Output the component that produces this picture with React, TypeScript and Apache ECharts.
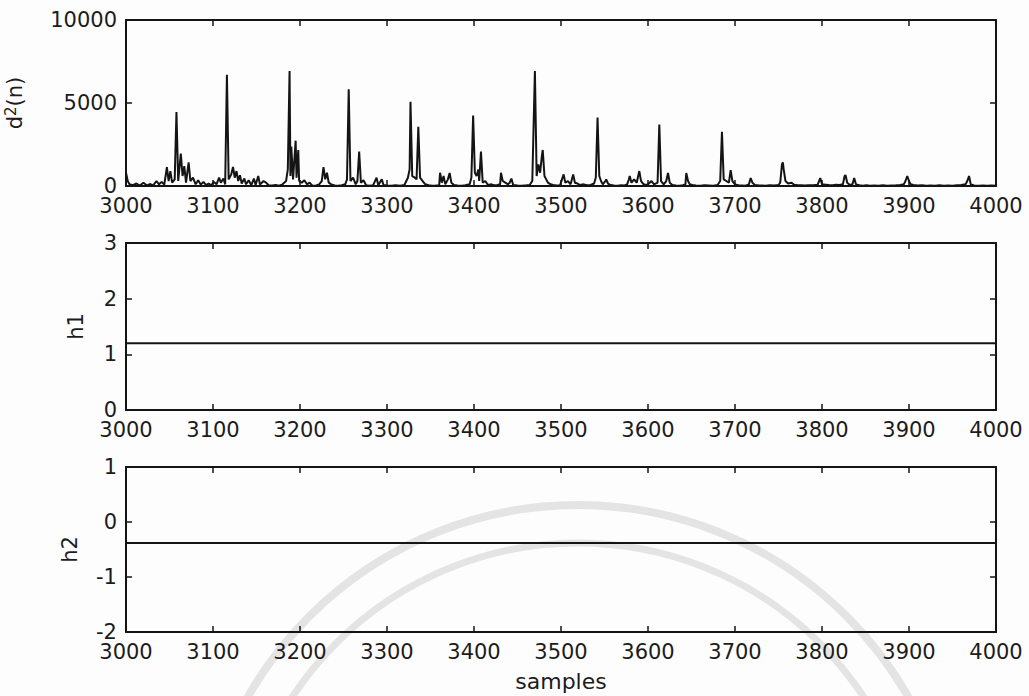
import React, { useEffect, useRef } from "react";
import * as echarts from "echarts";

// ---- data ----
const d2Samples = [
  3000, 3002, 3004, 3008, 3012, 3016, 3020, 3024, 3028, 3031, 3035, 3038, 3041, 3044, 3047, 3049, 3051, 3053, 3056, 3058,
  3060, 3063, 3065, 3067, 3069, 3072, 3074, 3077, 3080, 3083, 3086, 3089, 3092, 3095, 3098, 3101, 3104, 3107, 3109, 3112,
  3114, 3116, 3118, 3121, 3123, 3125, 3127, 3129, 3131, 3133, 3136, 3138, 3141, 3144, 3147, 3149, 3152, 3154, 3158, 3161,
  3164, 3168, 3172, 3176, 3180, 3184, 3186, 3188, 3189, 3190, 3192, 3195, 3196, 3198, 3199, 3202, 3205, 3208, 3211, 3214,
  3218, 3222, 3225, 3227, 3229, 3231, 3233, 3236, 3240, 3244, 3248, 3252, 3254, 3256, 3258, 3261, 3264, 3266, 3268, 3270,
  3273, 3276, 3280, 3284, 3288, 3290, 3294, 3296, 3300, 3305, 3310, 3315, 3320, 3324, 3326, 3327, 3329, 3332, 3334, 3336,
  3338, 3341, 3344, 3348, 3352, 3356, 3360, 3361, 3363, 3365, 3367, 3370, 3372, 3374, 3377, 3381, 3386, 3390, 3395, 3397,
  3399, 3401, 3403, 3405, 3406, 3408, 3410, 3413, 3416, 3420, 3423, 3427, 3430, 3431, 3433, 3436, 3439, 3441, 3443, 3445,
  3450, 3455, 3460, 3464, 3467, 3470, 3472, 3474, 3476, 3478, 3479, 3481, 3483, 3485, 3488, 3491, 3495, 3499, 3503, 3505,
  3508, 3511, 3514, 3516, 3519, 3522, 3526, 3530, 3534, 3538, 3540, 3542, 3544, 3546, 3548, 3551, 3552, 3554, 3557, 3561,
  3565, 3569, 3573, 3576, 3578, 3579, 3581, 3584, 3587, 3590, 3592, 3595, 3598, 3601, 3604, 3607, 3611, 3613, 3615, 3618,
  3621, 3623, 3625, 3628, 3632, 3636, 3640, 3643, 3644, 3646, 3648, 3651, 3655, 3660, 3665, 3670, 3675, 3680, 3683, 3685,
  3687, 3690, 3693, 3695, 3697, 3700, 3704, 3708, 3712, 3716, 3718, 3720, 3723, 3727, 3731, 3735, 3740, 3745, 3750, 3752,
  3754, 3755, 3756, 3758, 3761, 3765, 3768, 3772, 3776, 3780, 3785, 3790, 3795, 3798, 3800, 3804, 3808, 3812, 3816, 3820,
  3824, 3826, 3827, 3829, 3832, 3835, 3837, 3839, 3843, 3847, 3851, 3855, 3860, 3865, 3870, 3875, 3880, 3885, 3890, 3894,
  3896, 3898, 3900, 3902, 3905, 3910, 3915, 3920, 3925, 3930, 3935, 3940, 3945, 3950, 3955, 3960, 3965, 3967, 3969, 3971,
  3975, 3980, 3985, 3990, 3995, 4000,
];
const d2Values = [
  800, 300, 100, 50, 150, 30, 200, 40, 120, 20, 300, 100, 250, 80, 1130, 300, 900, 200, 400, 4450,
  300, 1950, 600, 1200, 200, 1430, 300, 500, 100, 350, 80, 250, 50, 150, 40, 250, 100, 500, 200, 450,
  100, 6700, 400, 700, 1150, 500, 900, 300, 650, 150, 450, 100, 350, 50, 450, 60, 600, 80, 300, 200,
  50, 30, 60, 20, 100, 300, 1000, 6930, 600, 2370, 400, 2730, 500, 2170, 300, 200, 350, 100, 200, 30,
  20, 100, 300, 1130, 400, 800, 200, 100, 30, 20, 50, 100, 400, 5820, 300, 500, 100, 300, 2070, 200,
  350, 50, 20, 40, 500, 50, 400, 60, 30, 20, 40, 20, 60, 500, 1000, 5080, 600, 500, 400, 3570,
  500, 300, 100, 50, 20, 30, 50, 800, 200, 600, 100, 400, 780, 200, 60, 30, 20, 40, 100, 500,
  4240, 800, 600, 1000, 300, 2070, 200, 300, 60, 100, 50, 60, 100, 800, 300, 200, 100, 200, 450, 60,
  30, 20, 40, 60, 300, 6930, 600, 1300, 800, 1800, 2170, 600, 400, 200, 100, 60, 30, 50, 700, 200,
  300, 100, 700, 200, 150, 60, 100, 40, 60, 150, 500, 4120, 600, 300, 100, 300, 400, 150, 60, 30,
  20, 40, 30, 100, 400, 600, 200, 400, 200, 900, 300, 100, 60, 150, 300, 100, 200, 3710, 300, 100,
  300, 780, 200, 60, 30, 20, 50, 100, 780, 300, 100, 60, 30, 20, 40, 30, 20, 60, 300, 3270,
  400, 300, 200, 960, 300, 100, 40, 30, 20, 100, 480, 200, 60, 40, 30, 20, 40, 30, 60, 200,
  1300, 1430, 1000, 300, 150, 200, 80, 50, 40, 30, 50, 40, 80, 480, 100, 80, 60, 50, 80, 60,
  100, 600, 660, 200, 60, 100, 480, 100, 40, 20, 40, 20, 30, 20, 40, 20, 30, 40, 60, 100,
  300, 600, 300, 100, 60, 30, 40, 20, 30, 20, 40, 20, 30, 20, 40, 60, 100, 300, 600, 100,
  30, 20, 30, 20, 30, 20,
];
const h1Value = 1.2;
const h2Value = -0.38;
const xRange = [3000, 4000];
const xInterval = 100;
const panelNames = ["d2", "h1", "h2"];
const yRanges = [
  [0, 10000, 5000],
  [0, 3, 1],
  [-2, 1, 1],
];

const FONT = "DejaVu Sans";
const INK = "#141414";
const TXT = "#1c1c1c";

export default function App() {
  const ref = useRef<HTMLDivElement>(null);
  useEffect(() => {
    if (!ref.current) return;
    const chart = echarts.init(ref.current, null, { renderer: "svg" });
    const grids = [
      { left: 126, top: 20, width: 870, height: 166, outerBoundsMode: "none", containLabel: false },
      { left: 126, top: 243, width: 870, height: 167, outerBoundsMode: "none", containLabel: false },
      { left: 126, top: 467, width: 870, height: 165, outerBoundsMode: "none", containLabel: false },
    ];
    const lineStyle = { color: INK, width: 2 };
    const fmt = (v: number) => String(v);
    const xAxes: any[] = [];
    const yAxes: any[] = [];
    const nameGaps = [100, 40, 46];
    grids.forEach((_, i) => {
      const base = {
        type: "value",
        gridIndex: i,
        min: xRange[0],
        max: xRange[1],
        interval: xInterval,
        axisLine: { show: true, onZero: false, lineStyle },
        axisTick: { show: true, inside: true, length: 6, lineStyle: { color: INK, width: 1.5 } },
        splitLine: { show: false },
      };
      xAxes.push({
        ...base,
        position: "bottom",
        axisLabel: { show: true, fontSize: 21, color: TXT, fontFamily: FONT, margin: 9, formatter: fmt },
        ...(i === 2
          ? {
              name: "samples",
              nameLocation: "middle",
              nameGap: 38,
              nameTextStyle: { fontSize: 22, color: TXT, fontFamily: FONT },
            }
          : {}),
      });
      xAxes.push({ ...base, position: "top", axisLabel: { show: false } });
      const [ymin, ymax, yint] = yRanges[i];
      const ybase = {
        type: "value",
        gridIndex: i,
        min: ymin,
        max: ymax,
        interval: yint,
        axisLine: { show: true, onZero: false, lineStyle },
        axisTick: { show: true, inside: true, length: 6, lineStyle: { color: INK, width: 1.5 } },
        splitLine: { show: false },
      };
      const nameObj =
        i === 0
          ? {
              name: "{a|d}{s|2}{a|(n)}",
              nameTextStyle: {
                rich: {
                  a: { fontSize: 21, color: TXT, fontFamily: FONT },
                  s: { fontSize: 15, color: TXT, fontFamily: FONT, verticalAlign: "top", padding: [0, 0, 8, 0] },
                },
              },
            }
          : { name: panelNames[i], nameTextStyle: { fontSize: 21, color: TXT, fontFamily: FONT } };
      yAxes.push({
        ...ybase,
        position: "left",
        axisLabel: { show: true, fontSize: 21, color: TXT, fontFamily: FONT, margin: 9, formatter: fmt },
        nameLocation: "middle",
        nameGap: nameGaps[i],
        ...nameObj,
      });
      yAxes.push({ ...ybase, position: "right", axisLabel: { show: false } });
    });

    const d2Data = d2Samples.map((s, k) => [s, d2Values[k]]);
    chart.setOption({
      animation: false,
      backgroundColor: "#fdfdfd",
      graphic: [
        {
          type: "arc",
          z: -10,
          silent: true,
          shape: { cx: 578, cy: 885, r: 380, startAngle: Math.PI, endAngle: 2 * Math.PI },
          style: { stroke: "#e4e4e4", lineWidth: 8, fill: "none" },
        },
        {
          type: "arc",
          z: -10,
          silent: true,
          shape: { cx: 578, cy: 885, r: 342, startAngle: Math.PI, endAngle: 2 * Math.PI },
          style: { stroke: "#e4e4e4", lineWidth: 7, fill: "none" },
        },
      ],
      grid: grids,
      xAxis: xAxes,
      yAxis: yAxes,
      series: [
        {
          type: "line",
          xAxisIndex: 0,
          yAxisIndex: 0,
          data: d2Data,
          symbol: "none",
          lineStyle: { color: INK, width: 2 },
        },
        {
          type: "line",
          xAxisIndex: 2,
          yAxisIndex: 2,
          data: [
            [xRange[0], h1Value],
            [xRange[1], h1Value],
          ],
          symbol: "none",
          lineStyle: { color: INK, width: 2 },
        },
        {
          type: "line",
          xAxisIndex: 4,
          yAxisIndex: 4,
          data: [
            [xRange[0], h2Value],
            [xRange[1], h2Value],
          ],
          symbol: "none",
          lineStyle: { color: INK, width: 2 },
        },
      ],
    });
    return () => chart.dispose();
  }, []);
  return (
    <div
      ref={ref}
      style={{ position: "fixed", left: 0, top: 0, width: 1029, height: 696 }}
    />
  );
}
